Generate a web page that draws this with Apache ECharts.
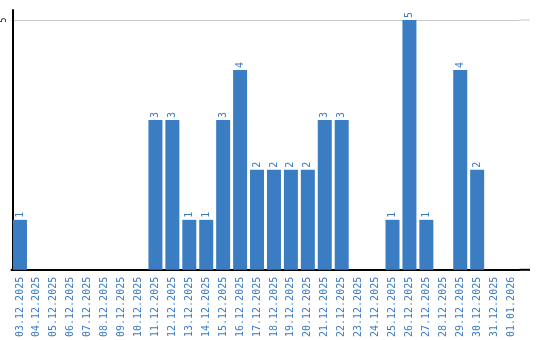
<!DOCTYPE html>
<html><head><meta charset="utf-8">
<script src="https://cdn.jsdelivr.net/npm/echarts@6/dist/echarts.min.js"></script>
<style>html,body{margin:0;padding:0;background:#fff}#c{width:540px;height:340px}</style>
</head><body><div id="c"></div>
<script>
const categories = ['03.12.2025','04.12.2025','05.12.2025','06.12.2025','07.12.2025','08.12.2025','09.12.2025','10.12.2025','11.12.2025','12.12.2025','13.12.2025','14.12.2025','15.12.2025','16.12.2025','17.12.2025','18.12.2025','19.12.2025','20.12.2025','21.12.2025','22.12.2025','23.12.2025','24.12.2025','25.12.2025','26.12.2025','27.12.2025','28.12.2025','29.12.2025','30.12.2025','31.12.2025','01.01.2026'];
const values = [1,0,0,0,0,0,0,0,3,3,1,1,3,4,2,2,2,2,3,3,0,0,1,5,1,0,4,2,0,0];
const yTicks = [5];

const FONT = 'DejaVu Sans Mono';
const chart = echarts.init(document.getElementById('c'));
chart.setOption({
  animation: false,
  grid: {left: 9.5, right: 20.5, top: 10, bottom: 70, containLabel: false},
  xAxis: {
    type: 'category', data: categories,
    axisLine: {lineStyle: {color: '#000', width: 2}},
    axisTick: {show: false},
    axisLabel: {rotate: 90, interval: 0, color: '#3a7bc0', fontFamily: FONT, fontSize: 10, margin: 7}
  },
  yAxis: {
    type: 'value', min: 0, max: 5.2, interval: 5, offset: -1.5,
    axisLine: {show: true, lineStyle: {color: '#000', width: 2}},
    axisTick: {show: false},
    axisLabel: {rotate: 90, color: '#000', fontFamily: FONT, fontSize: 8, margin: 5,
      align: 'center', verticalAlign: 'bottom',
      showMaxLabel: false,
      formatter: v => yTicks.includes(v) ? String(v) : ''},
    splitLine: {show: true, lineStyle: {color: ['transparent','#c8c8c8','transparent'], width: 1}}
  },
  series: [{
    type: 'bar', data: values,
    barWidth: 14,
    itemStyle: {color: '#3b7dc3'},
    label: {
      show: true, position: 'top', rotate: 90, align: 'left', verticalAlign: 'middle',
      distance: 2, color: '#3a7bc0', fontFamily: FONT, fontSize: 10,
      formatter: p => p.value > 0 ? String(p.value) : ''
    }
  }]
});
// extend grid line and x-axis line to the right edge as in the reference
const p5 = chart.convertToPixel({yAxisIndex: 0}, yTicks[0]);
const p0 = chart.convertToPixel({yAxisIndex: 0}, 0);
const xEnd = 530, xStart = 540 - 20.5;
chart.setOption({
  graphic: [
    {type: 'line', shape: {x1: xStart, y1: p5, x2: xEnd, y2: p5}, style: {stroke: '#c8c8c8', lineWidth: 1}, silent: true},
    {type: 'line', shape: {x1: xStart, y1: p0, x2: xEnd, y2: p0}, style: {stroke: '#000', lineWidth: 2}, silent: true}
  ]
});
</script></body></html>
